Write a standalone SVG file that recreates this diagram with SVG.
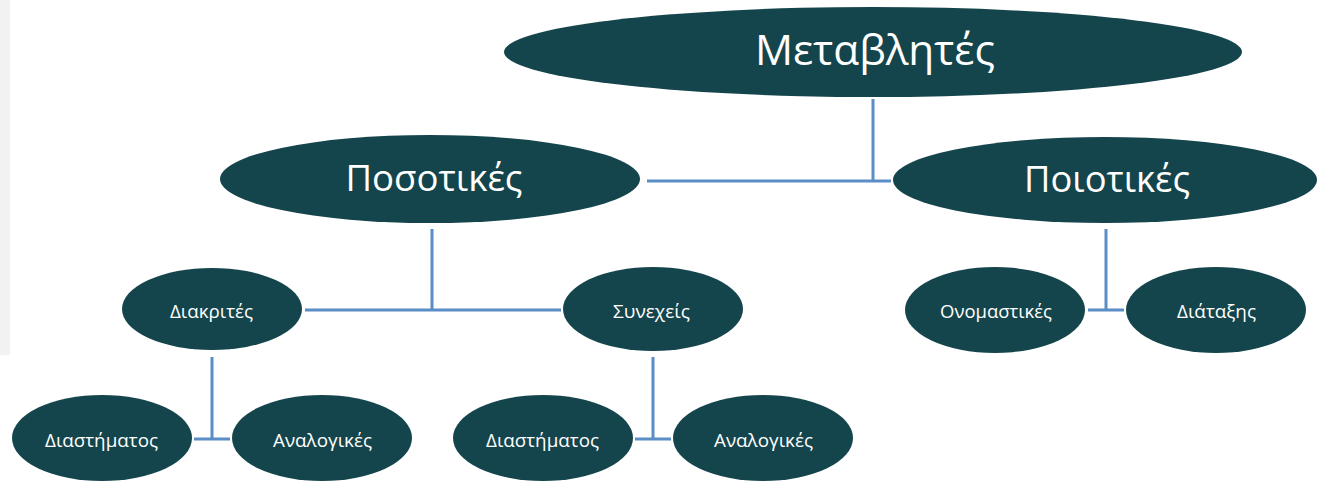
<svg xmlns="http://www.w3.org/2000/svg" width="1317" height="481" viewBox="0 0 1317 481">
<style>
.n{fill:#15454C}
.t{fill:#ffffff;font-family:"Open Sans","Noto Sans","Liberation Sans",sans-serif;text-anchor:middle}
.s{font-size:18px}
.c{stroke:#5B8EC6;stroke-width:3;fill:none}
</style>
<rect x="0" y="0" width="1317" height="481" fill="#ffffff"/>
<rect x="0" y="0" width="10" height="355" fill="#f2f2f2"/>
<g id="connectors">
<path class="c" d="M873,99 V181 M647,181 H891"/>
<path class="c" d="M432,229 V310 M305,310 H561"/>
<path class="c" d="M1106,229 V310 M1088,310 H1124"/>
<path class="c" d="M212,357 V439 M194,439 H230"/>
<path class="c" d="M653,357 V439 M635,439 H671"/>
</g>
<g id="n-metavlites"><ellipse class="n" cx="873" cy="52" rx="369" ry="45"/><text class="t" x="875" y="65" font-size="42" textLength="240" lengthAdjust="spacingAndGlyphs">Μεταβλητές</text></g>
<g id="n-posotikes"><ellipse class="n" cx="430" cy="179" rx="210" ry="44"/><text class="t" x="434" y="191" font-size="37" textLength="177" lengthAdjust="spacingAndGlyphs">Ποσοτικές</text></g>
<g id="n-poiotikes"><ellipse class="n" cx="1105" cy="180" rx="212" ry="43"/><text class="t" x="1107" y="192" font-size="37" textLength="166" lengthAdjust="spacingAndGlyphs">Ποιοτικές</text></g>
<g id="n-diakrites"><ellipse class="n" cx="212" cy="309" rx="90" ry="41"/><text class="t s" x="211.5" y="318" textLength="83" lengthAdjust="spacingAndGlyphs">Διακριτές</text></g>
<g id="n-synexeis"><ellipse class="n" cx="653" cy="309" rx="90" ry="42"/><text class="t s" x="651.5" y="318" textLength="77" lengthAdjust="spacingAndGlyphs">Συνεχείς</text></g>
<g id="n-onomastikes"><ellipse class="n" cx="995" cy="310" rx="90" ry="43"/><text class="t s" x="996" y="318" textLength="112" lengthAdjust="spacingAndGlyphs">Ονομαστικές</text></g>
<g id="n-diataxis"><ellipse class="n" cx="1216" cy="310" rx="90" ry="43"/><text class="t s" x="1216.5" y="318" textLength="79" lengthAdjust="spacingAndGlyphs">Διάταξης</text></g>
<g id="n-diastimatos1"><ellipse class="n" cx="102" cy="438" rx="90" ry="43"/><text class="t s" x="101.5" y="447" textLength="113" lengthAdjust="spacingAndGlyphs">Διαστήματος</text></g>
<g id="n-analogikes1"><ellipse class="n" cx="322" cy="438" rx="90" ry="43"/><text class="t s" x="322.5" y="447" textLength="99" lengthAdjust="spacingAndGlyphs">Αναλογικές</text></g>
<g id="n-diastimatos2"><ellipse class="n" cx="543" cy="438" rx="90" ry="43"/><text class="t s" x="542.5" y="447" textLength="113" lengthAdjust="spacingAndGlyphs">Διαστήματος</text></g>
<g id="n-analogikes2"><ellipse class="n" cx="763" cy="438" rx="90" ry="43"/><text class="t s" x="763.5" y="447" textLength="99" lengthAdjust="spacingAndGlyphs">Αναλογικές</text></g>
</svg>
